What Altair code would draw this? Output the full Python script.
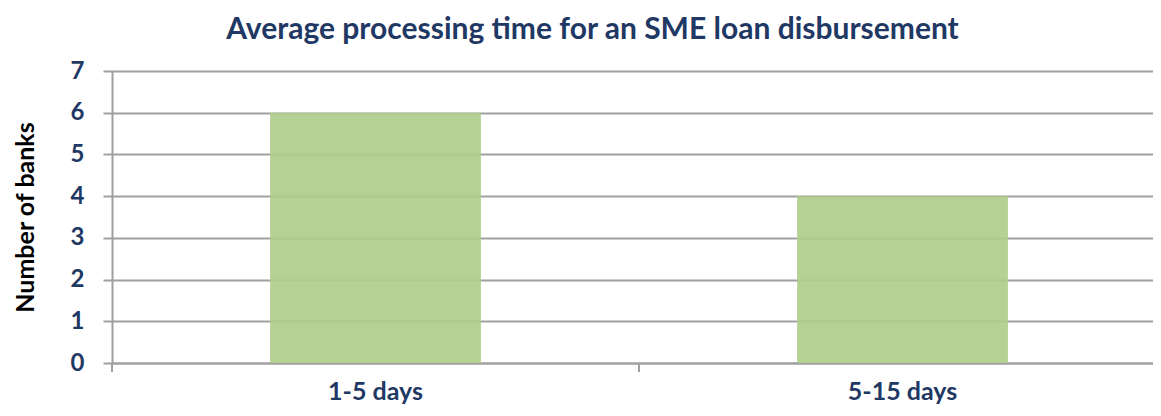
import altair as alt
import pandas as pd

categories = ["1-5 days", "5-15 days"]
banks = [6, 4]

df = pd.DataFrame({"cat": categories, "banks": banks})

NAVY = "#1F3864"
FONT = "Lato"
H = 292
W = 1041

base = alt.Chart(df)

xscale = alt.Scale(paddingInner=0, paddingOuter=0, range=[0, 1054])

bars = base.mark_bar(color="#AFCD8B", opacity=0.92, width=alt.RelativeBandSize(0.4)).encode(
    x=alt.X("cat:N", sort=categories, title=None, scale=xscale,
            axis=alt.Axis(labelFont=FONT, labelFontSize=25, labelFontWeight="bold",
                          labelColor=NAVY, labelAngle=0, labelPadding=16,
                          ticks=False, domainColor="#A0A0A0", domainWidth=2)),
    y=alt.Y("banks:Q", title="Number of banks",
            scale=alt.Scale(domain=[0, 7], nice=False),
            axis=alt.Axis(values=[0, 1, 2, 3, 4, 5, 6, 7], format="d",
                          labelFont=FONT, labelFontSize=24, labelFontWeight="bold",
                          labelColor=NAVY, labelPadding=19,
                          tickSize=9, tickColor="#A0A0A0", tickWidth=2,
                          domainColor="#A0A0A0", domainWidth=2,
                          gridColor="#A0A0A0", gridWidth=2,
                          titleFont=FONT, titleFontSize=25, titleFontWeight="bold",
                          titleColor="black", titlePadding=32)),
)

ticks = base.mark_rule(color="#A0A0A0", strokeWidth=2, clip=False).encode(
    x=alt.X("cat:N", sort=categories, bandPosition=0, scale=xscale),
    y=alt.value(H),
    y2=alt.value(H + 9),
)

chart = alt.layer(bars, ticks).properties(
    width=W, height=H,
    title=alt.TitleParams("Average processing time for an SME loan disbursement",
                          font=FONT, fontSize=30, fontWeight="bold", color=NAVY,
                          anchor="middle", dx=-40, offset=14),
    autosize=alt.AutoSizeParams(type="none"),
    padding={"left": 104, "top": 63, "right": 0, "bottom": 45},
).configure_view(stroke=None)

chart.save("out.html", embed_options={"renderer": "svg", "actions": False})
